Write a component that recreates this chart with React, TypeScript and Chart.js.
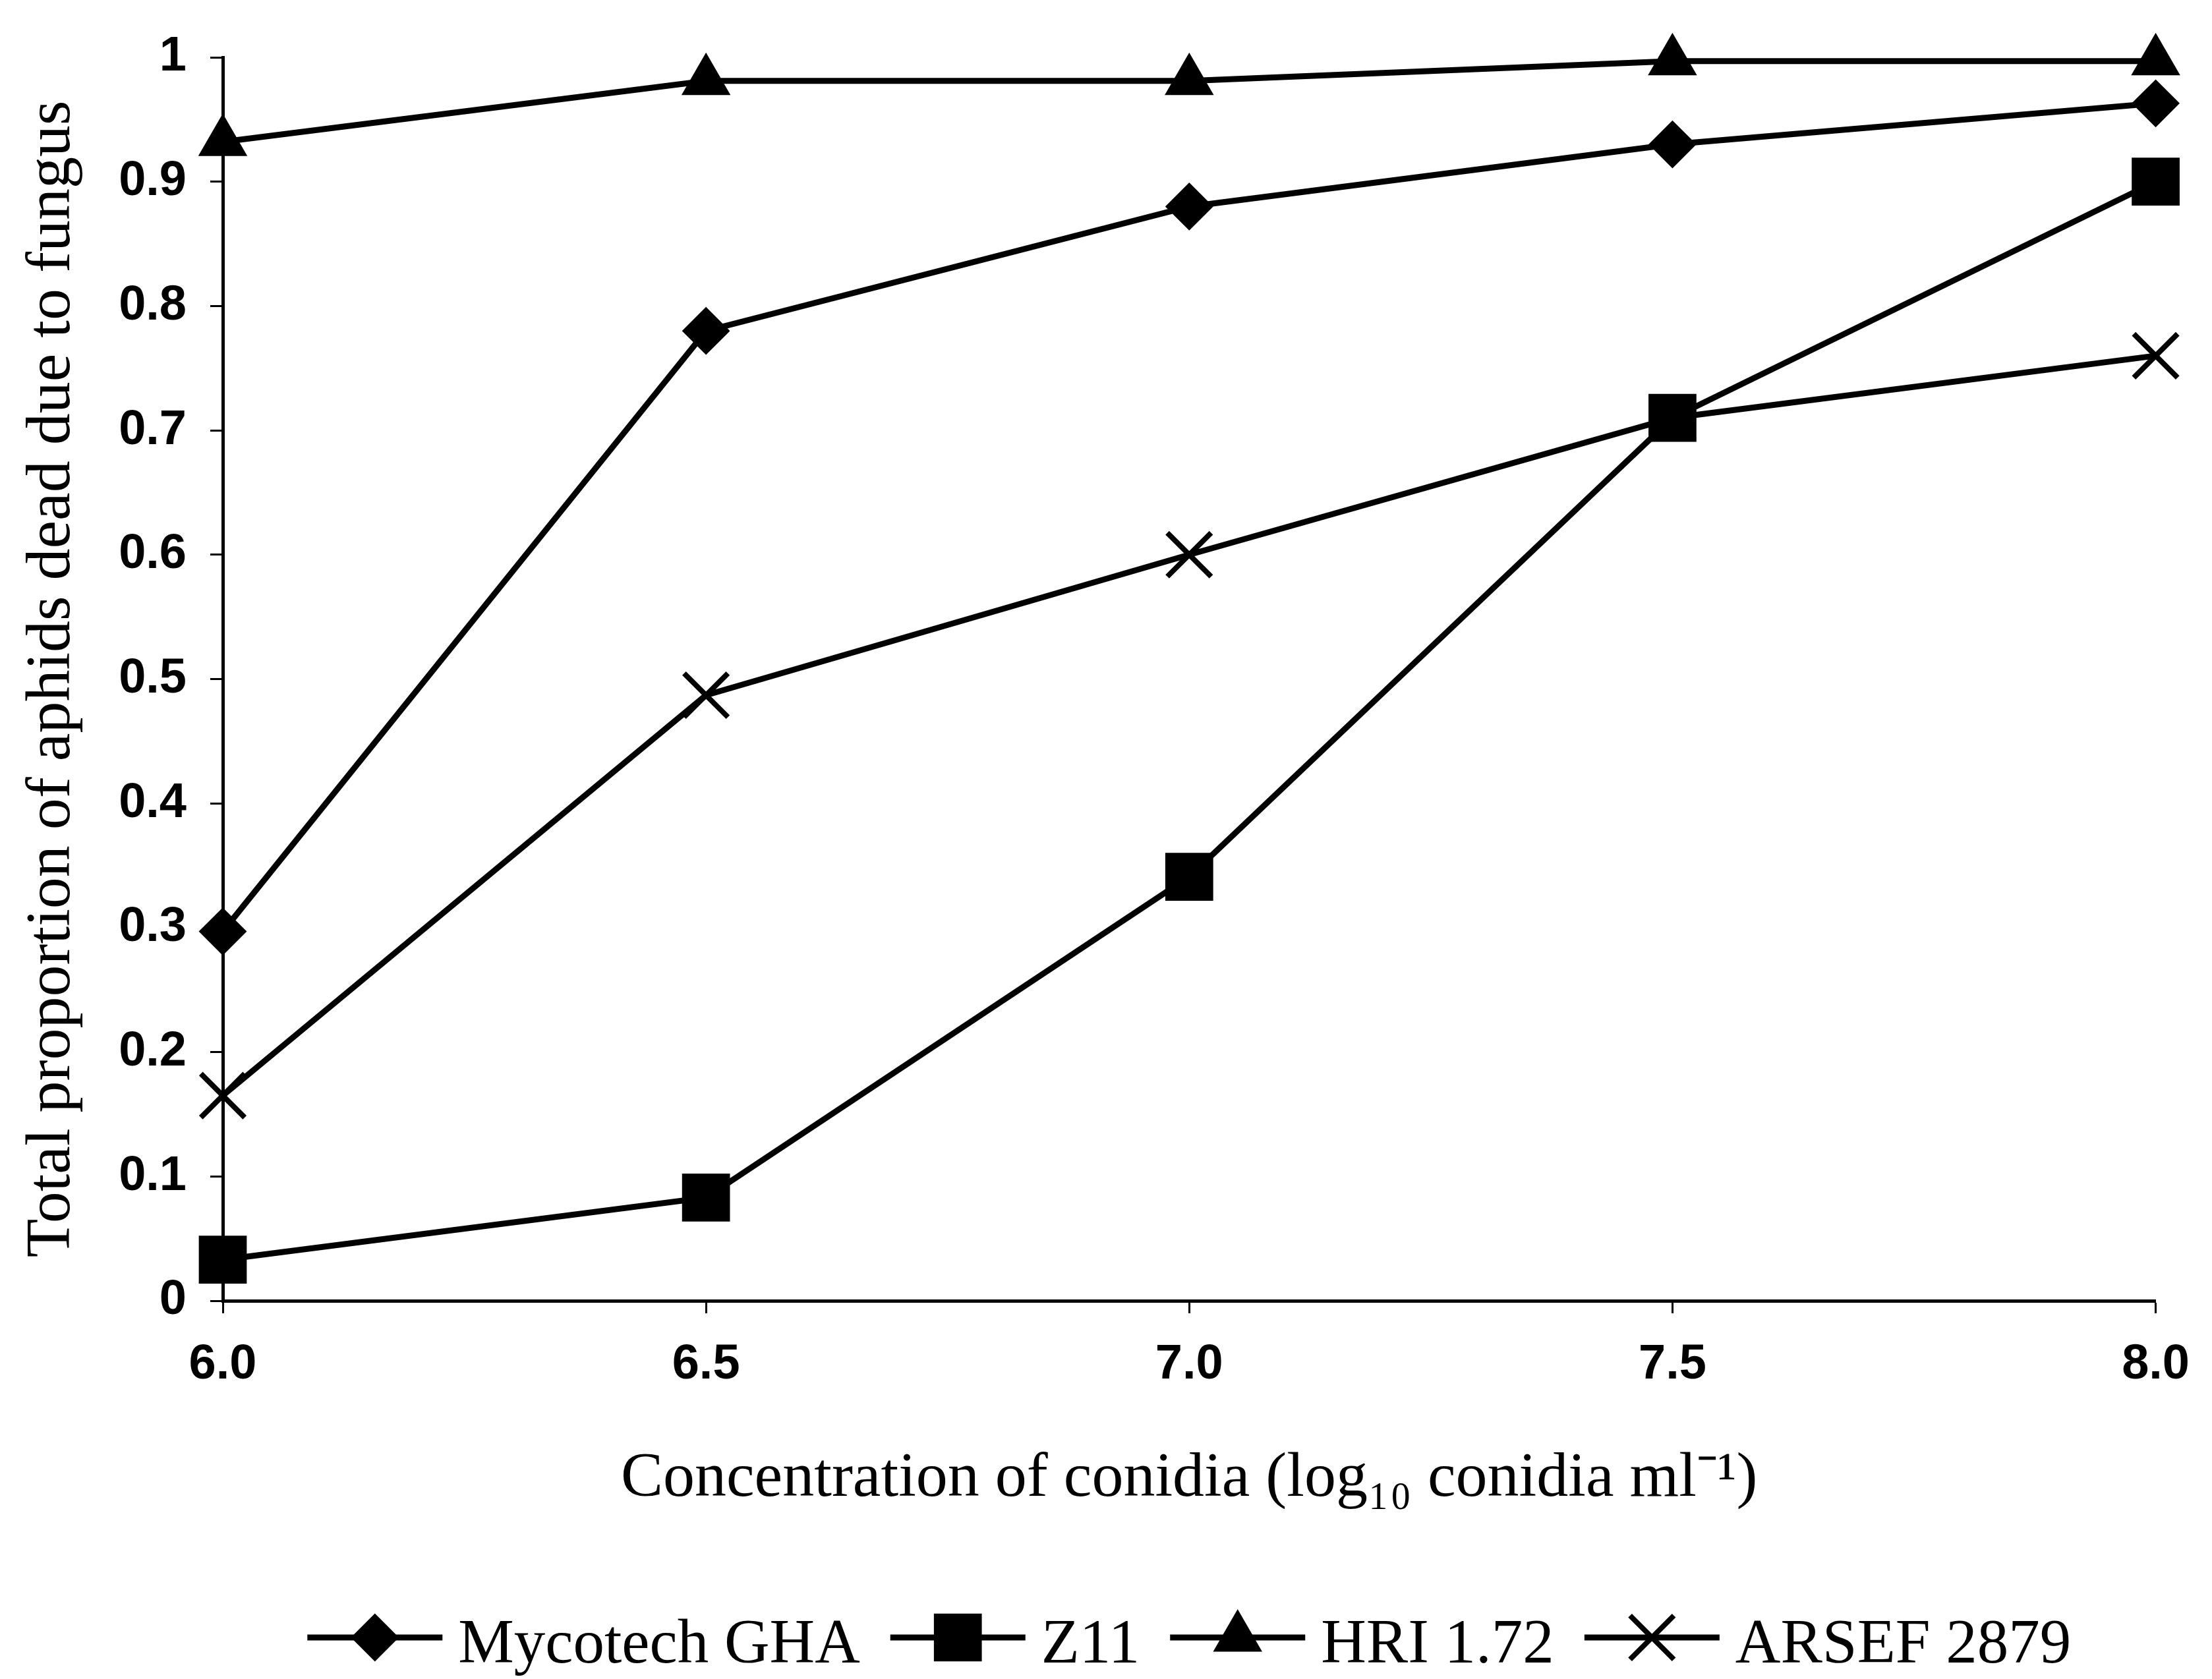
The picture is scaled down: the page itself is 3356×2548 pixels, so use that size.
import React, { useEffect, useRef } from 'react';
import { Chart, registerables } from 'chart.js';
import { drawPoint } from 'chart.js/helpers';

Chart.register(...registerables);

// ---- data ----
const concentrations = [6.0, 6.5, 7.0, 7.5, 8.0];
const mycotechGHA = [0.297, 0.78, 0.88, 0.93, 0.963];
const z11 = [0.033, 0.083, 0.341, 0.71, 0.9];
const hri172 = [0.932, 0.981, 0.981, 0.997, 0.997];
const arsef2879 = [0.165, 0.487, 0.6, 0.71, 0.76];
const seriesNames = ['Mycotech GHA', 'Z11', 'HRI 1.72', 'ARSEF 2879'];
const xAxisTitle = 'Concentration of conidia (log\u2081\u2080 conidia ml\u207B\u00B9)';
const yAxisTitle = 'Total proportion of aphids dead due to fungus';

// ---- styles ----
const W = 3356;
const H = 2548;
const seriesStyles = [
  { pointStyle: 'rectRot', radius: 35, border: 2 },
  { pointStyle: 'rect', radius: 50, border: 2 },
  { pointStyle: 'triangle', radius: 41, border: 2 },
  { pointStyle: 'crossRot', radius: 47, border: 8 },
];
const seriesValues = [mycotechGHA, z11, hri172, arsef2879];

const legendPlugin = {
  id: 'lineLegend',
  afterDraw(chart: any) {
    const ctx = chart.ctx;
    const { left, right } = chart.chartArea;
    const lineY = 2485;
    const textY = 2523;
    const lineLen = 205;
    const textGap = 24;
    const itemGap = 46;
    ctx.save();
    ctx.font = '95px "Liberation Serif"';
    const ds = chart.data.datasets;
    const widths = ds.map((d: any) => ctx.measureText(d.label).width);
    const total =
      widths.reduce((a: number, w: number) => a + lineLen + textGap + w, 0) +
      itemGap * (ds.length - 1);
    let x = (left + right) / 2 - total / 2;
    ds.forEach((d: any, i: number) => {
      ctx.strokeStyle = '#000';
      ctx.fillStyle = '#000';
      ctx.lineWidth = 9;
      ctx.beginPath();
      ctx.moveTo(x, lineY);
      ctx.lineTo(x + lineLen, lineY);
      ctx.stroke();
      ctx.lineWidth = d.pointBorderWidth;
      drawPoint(
        ctx,
        { pointStyle: d.pointStyle, radius: d.pointRadius, borderWidth: d.pointBorderWidth, rotation: 0 },
        x + lineLen / 2,
        lineY
      );
      ctx.fillStyle = '#000';
      ctx.textAlign = 'left';
      ctx.textBaseline = 'alphabetic';
      ctx.fillText(d.label, x + lineLen + textGap, textY);
      x += lineLen + textGap + widths[i] + itemGap;
    });
    ctx.restore();
  },
};

export default function App() {
  const canvasRef = useRef<HTMLCanvasElement | null>(null);

  useEffect(() => {
    const canvas = canvasRef.current;
    if (!canvas) return;
    const datasets = seriesNames.map((name, i) => ({
      label: name,
      data: concentrations.map((c, j) => ({ x: c, y: seriesValues[i][j] })),
      borderColor: '#000',
      backgroundColor: '#000',
      borderWidth: 9,
      tension: 0,
      fill: false,
      pointStyle: seriesStyles[i].pointStyle,
      pointRadius: seriesStyles[i].radius,
      pointBorderWidth: seriesStyles[i].border,
      pointBackgroundColor: '#000',
      pointBorderColor: '#000',
      clip: false as any,
    }));

    const chart = new Chart(canvas, {
      type: 'line',
      data: { datasets },
      plugins: [legendPlugin],
      options: {
        animation: false,
        responsive: false,
        devicePixelRatio: 1,
        layout: { padding: { top: 87, right: 63, left: 0, bottom: 0 } },
        plugins: {
          legend: { display: false },
          tooltip: { enabled: false },
        },
        scales: {
          x: {
            type: 'linear',
            min: 6,
            max: 8,
            ticks: {
              stepSize: 0.5,
              color: '#000',
              padding: 34,
              font: { family: '"Liberation Sans"', size: 74, weight: 'bold' },
              callback: (v: any) => Number(v).toFixed(1),
            },
            grid: {
              drawOnChartArea: false,
              drawTicks: true,
              tickLength: 19,
              tickColor: '#000',
              tickWidth: 3,
            },
            border: { display: true, color: '#000', width: 5 },
            title: {
              display: true,
              text: xAxisTitle,
              color: '#000',
              font: { family: '"Liberation Serif"', size: 96, weight: 'normal' },
              padding: { top: 0, bottom: 246 },
            },
            afterFit: (scale: any) => {
              scale.height = 574;
            },
          },
          y: {
            type: 'linear',
            min: 0,
            max: 1,
            ticks: {
              stepSize: 0.1,
              color: '#000',
              padding: 36,
              font: { family: '"Liberation Sans"', size: 74, weight: 'bold' },
              callback: (v: any) => String(Math.round(Number(v) * 10) / 10),
            },
            grid: {
              drawOnChartArea: false,
              drawTicks: true,
              tickLength: 19,
              tickColor: '#000',
              tickWidth: 3,
            },
            border: { display: true, color: '#000', width: 5 },
            title: {
              display: true,
              text: yAxisTitle,
              color: '#000',
              font: { family: '"Liberation Serif"', size: 96, weight: 'normal' },
              padding: { top: 22, bottom: 0 },
            },
            afterFit: (scale: any) => {
              scale.width = 338;
            },
          },
        },
      } as any,
    });
    return () => chart.destroy();
  }, []);

  return (
    <div style={{ position: 'absolute', left: 0, top: 0, width: W, height: H, background: '#fff' }}>
      <canvas ref={canvasRef} width={W} height={H} style={{ display: 'block', width: W, height: H }} />
    </div>
  );
}
